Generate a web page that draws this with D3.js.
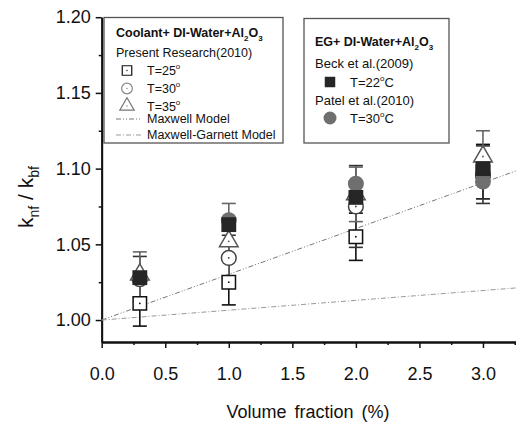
<!DOCTYPE html>
<html><head><meta charset="utf-8">
<script src="https://cdn.jsdelivr.net/npm/d3@7"></script>
<style>body{margin:0;background:#fff}svg{display:block}text{font-family:"Liberation Sans",Arial,sans-serif}</style>
</head><body>
<svg id="c" width="516" height="423"></svg>
<script>
// ---- data ----
const xVals = [0.3, 1.0, 2.0, 3.0];
const t25 = [1.011, 1.025, 1.055, 1.098];
const t25err = [0.015, 0.015, 0.0156, 0.018];
const t30 = [1.027, 1.041, 1.075, 1.096];
const t30err = [0.015, 0.015, 0.027, 0.019];
const t35 = [1.030, 1.052, 1.083, 1.108];
const t35err = [0.015, 0.025, 0.018, 0.017];
const beckX = [0.3, 1.0, 2.0, 3.0];
const beck = [1.028, 1.063, 1.081, 1.100];
const patelX = [1.0, 2.0, 3.0];
const patel = [1.066, 1.090, 1.0915];
const modelX = [0, 3.26];
const maxwell = [1.0, 1.0985];
const maxwellGarnett = [1.0, 1.0212];
const xTicks = [0, 0.5, 1.0, 1.5, 2.0, 2.5, 3.0];
const yTicks = [1.00, 1.05, 1.10, 1.15, 1.20];

const svg = d3.select("#c");
const x = d3.scaleLinear().domain([0, 3.26]).range([101.7, 516]);
const y = d3.scaleLinear().domain([0.9855, 1.2]).range([342, 17.2]);

// axes
const xAxis = d3.axisBottom(x).tickValues(xTicks).tickFormat(d3.format(".1f")).tickSize(6).tickSizeOuter(0);
const xMinor = d3.axisBottom(x).tickValues(d3.range(0.25, 3.26, 0.5)).tickFormat("").tickSize(3).tickSizeOuter(0);
const yAxis = d3.axisLeft(y).tickValues(yTicks).tickFormat(d3.format(".2f")).tickSize(6).tickSizeOuter(0);
const yMinor = d3.axisLeft(y).tickValues([1.025,1.075,1.125,1.175]).tickFormat("").tickSize(3).tickSizeOuter(0);

function styleAxis(g){
  g.select(".domain").attr("stroke","#111").attr("stroke-width",1.8);
  g.selectAll(".tick line").attr("stroke","#111").attr("stroke-width",1.5);
  g.selectAll(".tick text").attr("fill","#111").style("font-size","18px");
}
const gx = svg.append("g").attr("transform","translate(0,342)").call(xAxis).call(styleAxis);
gx.selectAll(".tick text").attr("dy","0").attr("y",38);
svg.append("g").attr("transform","translate(0,342)").call(xMinor).call(styleAxis);
const gy = svg.append("g").attr("transform","translate(101.7,0)").call(yAxis).call(styleAxis);
gy.selectAll(".tick text").attr("x",-11);
svg.append("g").attr("transform","translate(101.7,0)").call(yMinor).call(styleAxis);

// axis titles
svg.append("text").attr("x",308).attr("y",418).attr("text-anchor","middle").style("font-size","18px").attr("fill","#111")
  .style("word-spacing","3px").text("Volume fraction (%)");
const yl = svg.append("text").attr("transform","translate(33,197) rotate(-90)").attr("text-anchor","middle").style("font-size","21px").attr("fill","#111");
yl.append("tspan").text("k");
yl.append("tspan").attr("dy",6).style("font-size","14px").text("nf");
yl.append("tspan").attr("dy",-6).text(" / k");
yl.append("tspan").attr("dy",6).style("font-size","14px").text("bf");

// model lines
const line = d3.line().x(d=>x(d[0])).y(d=>y(d[1]));
svg.append("path").datum(modelX.map((v,i)=>[v,maxwell[i]])).attr("d",line).attr("fill","none")
  .attr("stroke","#777").attr("stroke-width",1).attr("stroke-dasharray","5,2,1,2,1,2");
svg.append("path").datum(modelX.map((v,i)=>[v,maxwellGarnett[i]])).attr("d",line).attr("fill","none")
  .attr("stroke","#999").attr("stroke-width",1).attr("stroke-dasharray","5,2,1,2");

// error bars
function errBars(vals, errs, color){
  const g = svg.append("g").attr("stroke",color).attr("stroke-width",1.6);
  xVals.forEach((xv,i)=>{
    const cx = x(xv), y1 = y(vals[i]+errs[i]), y2 = y(vals[i]-errs[i]);
    g.append("line").attr("x1",cx).attr("x2",cx).attr("y1",y1).attr("y2",y2);
    g.append("line").attr("x1",cx-7).attr("x2",cx+7).attr("y1",y1).attr("y2",y1);
    g.append("line").attr("x1",cx-7).attr("x2",cx+7).attr("y1",y2).attr("y2",y2);
  });
}
errBars(t25, t25err, "#111");
errBars(t30, t30err, "#333");
errBars(t35, t35err, "#666");

const sym = {
  sq: d3.symbol().type(d3.symbolSquare).size(180)(),
  ci: d3.symbol().type(d3.symbolCircle).size(170)(),
  tr: d3.symbol().type(d3.symbolTriangle).size(150)(),
  fsq: d3.symbol().type(d3.symbolSquare).size(220)(),
  fci: d3.symbol().type(d3.symbolCircle).size(200)()
};
function openPts(vals, s, stroke){
  xVals.forEach((xv,i)=>{
    const g = svg.append("g").attr("transform",`translate(${x(xv)},${y(vals[i])})`);
    g.append("path").attr("d",s).attr("fill","#fff").attr("stroke",stroke).attr("stroke-width",1.5);
    g.append("circle").attr("r",0.9).attr("fill",stroke);
  });
}
openPts(t25, sym.sq, "#111");
openPts(t30, sym.ci, "#444");
openPts(t35, sym.tr, "#555");
patelX.forEach((xv,i)=>{
  svg.append("path").attr("d",sym.fci).attr("transform",`translate(${x(xv)},${y(patel[i])})`).attr("fill","#6f6f6f");
});
beckX.forEach((xv,i)=>{
  svg.append("path").attr("d",sym.fsq).attr("transform",`translate(${x(xv)},${y(beck[i])})`).attr("fill","#262626");
});

// legend 1
svg.append("rect").attr("x",104).attr("y",17.5).attr("width",179).attr("height",125.5).attr("fill","#fff").attr("stroke","#555").attr("stroke-width",1.3);
function title(xp, yp, main){
  const t = svg.append("text").attr("x",xp).attr("y",yp).style("font-size","12.5px").style("font-weight","bold").attr("fill","#111");
  t.append("tspan").text(main);
  t.append("tspan").attr("dy",4).style("font-size","8px").text("2");
  t.append("tspan").attr("dy",-4).text("O");
  t.append("tspan").attr("dy",4).style("font-size","8px").text("3");
}
title(116, 37, "Coolant+ DI-Water+Al");
svg.append("text").attr("x",116).attr("y",56.5).style("font-size","12.5px").attr("fill","#111").text("Present Research(2010)");
const leg1 = [["sq","#111","T=25",70.5],["ci","#888","T=30",88.5],["tr","#777","T=35",106]];
leg1.forEach(([k,c,lab,yy])=>{
  const g = svg.append("g").attr("transform",`translate(127,${yy})`);
  const s = d3.symbol().type(k==="sq"?d3.symbolSquare:k==="ci"?d3.symbolCircle:d3.symbolTriangle).size(90)();
  g.append("path").attr("d",s).attr("fill","#fff").attr("stroke",c).attr("stroke-width",1.2);
  g.append("circle").attr("r",0.7).attr("fill",c);
  const t = svg.append("text").attr("x",147).attr("y",yy+4.5).style("font-size","12.5px").attr("fill","#111");
  t.append("tspan").text(lab);
  t.append("tspan").attr("dy",-6).style("font-size","8px").text("o");
});
svg.append("line").attr("x1",116).attr("x2",142).attr("y1",119).attr("y2",119).attr("stroke","#777").attr("stroke-dasharray","5,2,1,2,1,2");
svg.append("text").attr("x",147).attr("y",123).style("font-size","12.5px").attr("fill","#111").text("Maxwell Model");
svg.append("line").attr("x1",116).attr("x2",142).attr("y1",135).attr("y2",135).attr("stroke","#999").attr("stroke-dasharray","5,2,1,2");
svg.append("text").attr("x",147).attr("y",139).style("font-size","12.5px").attr("fill","#111").text("Maxwell-Garnett Model");

// legend 2
svg.append("rect").attr("x",304).attr("y",18.5).attr("width",145).attr("height",124.5).attr("fill","#fff").attr("stroke","#555").attr("stroke-width",1.3);
title(315, 46, "EG+ DI-Water+Al");
svg.append("text").attr("x",315).attr("y",67.5).style("font-size","13px").attr("fill","#111").text("Beck et al.(2009)");
svg.append("path").attr("d",d3.symbol().type(d3.symbolSquare).size(110)()).attr("transform","translate(330,82)").attr("fill","#262626");
function tC(yy, lab){
  const t = svg.append("text").attr("x",350).attr("y",yy).style("font-size","13px").attr("fill","#111");
  t.append("tspan").text(lab);
  t.append("tspan").attr("dy",-6).style("font-size","8px").text("o");
  t.append("tspan").attr("dy",6).text("C");
}
tC(86.5, "T=22");
svg.append("text").attr("x",315).attr("y",104.5).style("font-size","13px").attr("fill","#111").text("Patel et al.(2010)");
svg.append("circle").attr("cx",330).attr("cy",118).attr("r",6.5).attr("fill","#6f6f6f");
tC(122.5, "T=30");
</script>
</body></html>
